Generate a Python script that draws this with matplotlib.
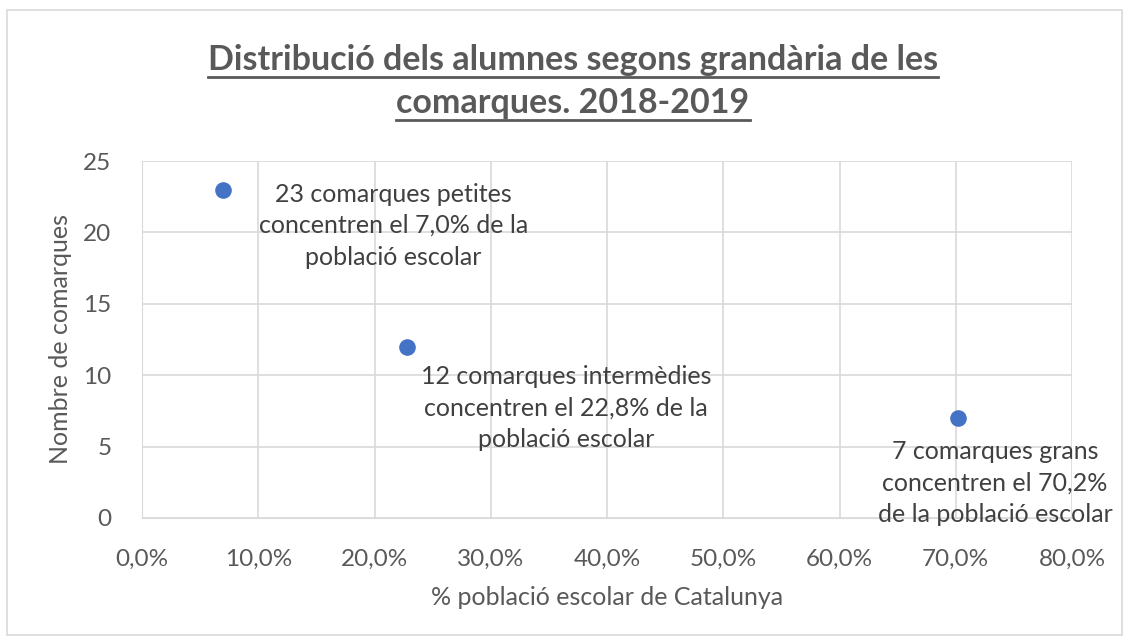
import matplotlib
matplotlib.use('Agg')
import matplotlib.pyplot as plt
from matplotlib.ticker import FuncFormatter
from matplotlib.patches import Rectangle

plt.rcParams['font.family'] = ['Lato', 'DejaVu Sans']

# dades
pct_poblacio = [7.0, 22.8, 70.2]
n_comarques = [23, 12, 7]
etiquetes = ['23 comarques petites\nconcentren el 7,0% de la\npoblació escolar',
             '12 comarques intermèdies\nconcentren el 22,8% de la\npoblació escolar',
             '7 comarques grans\nconcentren el 70,2%\nde la població escolar']
# desplaçament de les etiquetes (píxels)
offsets = [(170, -36), (159, -61), (37, -65)]

gris_text = '#595959'
gris_grid = '#D9D9D9'

fig = plt.figure(figsize=(11.29, 6.42), dpi=100)
fig.patches.append(Rectangle((7 / 1129, 7 / 642), 1115 / 1129, 625 / 642,
                             transform=fig.transFigure, fill=False,
                             edgecolor=gris_grid, linewidth=1.2))
ax = fig.add_axes([142 / 1129, 1 - 518 / 642, 930 / 1129, 357 / 642])

ax.scatter(pct_poblacio, n_comarques, s=120, color='#4472C4', zorder=3)
for x, y, t, (dx, dy) in zip(pct_poblacio, n_comarques, etiquetes, offsets):
    ax.annotate(t, (x, y), xytext=(dx, dy), textcoords='offset pixels',
                ha='center', va='center', fontsize=18, color='#404040',
                linespacing=1.45, zorder=4)

ax.set_xlim(0, 80)
ax.set_ylim(0, 25)
ax.set_xticks(range(0, 81, 10))
ax.set_yticks(range(0, 26, 5))
ax.xaxis.set_major_formatter(FuncFormatter(lambda v, p: f'{v:.1f}%'.replace('.', ',')))
ax.grid(True, color=gris_grid, linewidth=1.2)
ax.set_axisbelow(True)
for s in ax.spines.values():
    s.set_visible(False)
ax.spines['bottom'].set_visible(True)
ax.spines['bottom'].set_color(gris_grid)
ax.spines['left'].set_visible(True)
ax.spines['left'].set_color(gris_grid)
ax.tick_params(length=0, labelsize=17.5, labelcolor=gris_text)
ax.tick_params(axis='x', pad=22)
ax.tick_params(axis='y', pad=22)

ax.set_xlabel('% població escolar de Catalunya', fontsize=18, color=gris_text, labelpad=12)
ax.set_ylabel('Nombre de comarques', fontsize=18, color=gris_text, labelpad=8)

# títol subratllat
renderer = fig.canvas.get_renderer()
for txt, yy in [('Distribució dels alumnes segons grandària de les', 1 - 60 / 642),
                ('comarques. 2018-2019', 1 - 103 / 642)]:
    t = fig.text(573 / 1129, yy, txt, ha='center', va='center', fontsize=24.5,
                 fontweight='bold', color=gris_text)
    bb = t.get_window_extent(renderer).transformed(fig.transFigure.inverted())
    fig.add_artist(plt.Line2D([bb.x0, bb.x1], [bb.y0 - 0.002, bb.y0 - 0.002],
                              transform=fig.transFigure, color=gris_text, linewidth=2))

fig.savefig('out.png', dpi=100)
